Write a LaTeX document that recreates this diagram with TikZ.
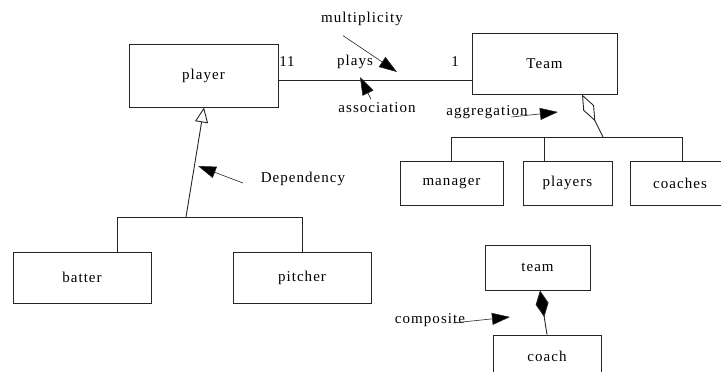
\documentclass[tikz,border=0pt]{standalone}
\usepackage{fontspec}
\setmainfont{Liberation Serif}[LetterSpace=7]
\usetikzlibrary{positioning}
\usetikzlibrary{arrows.meta}
\colorlet{uml-line}{black!85}
\tikzset{
  class-box/.style 2 args={draw=uml-line, rectangle, minimum width=#1, minimum height=#2, inner sep=0pt},
  note-path/.style={uml-line, line width=0.6pt, -{Triangle[length=18pt,width=12pt,fill=black]}},
  generalize/.style={-{Triangle[open,length=15pt,width=13pt]}},
  aggregate/.style={-{Diamond[open,length=30pt,width=12pt]}},
  compose/.style={-{Diamond[length=27pt,width=13pt,fill=black]}},
}

\begin{document}
\begin{tikzpicture}[x=1pt, y=-1pt, font=\fontsize{15}{18}\selectfont, line width=0.9pt, draw=uml-line]
\useasboundingbox (0,0) rectangle (721,372);
% classes
\node[class-box={149pt}{63pt}] at (203.5,75.5) (player) {player};
\node[class-box={145pt}{61pt}] at (544.5,63.5) (Team) {Team};
\node[class-box={138pt}{51pt}] at (82,277.5) (batter) {batter};
\node[class-box={138pt}{51pt}] at (302,277.5) (pitcher) {pitcher};
\node[class-box={103pt}{44pt}] at (451.5,183) (manager) {manager};
\node[class-box={89pt}{44pt}] at (567.5,183) (players) {players};
\node[class-box={100pt}{44pt}] at (680,183.5) (coaches) {coaches};
\node[class-box={105pt}{45pt}] at (537.5,267.5) (team) {team};
\node[class-box={108pt}{42pt}] at (547,356) (coach) {coach};
% association
\draw ([yshift=-4.5pt]player.east) -- ([yshift=-4.5pt]player.east -| Team.west);
\node at (287,62) (one-left) {11};
\node at (355,62) (plays) {plays};
\node at (455,62) (one-right) {1};
% generalization
\coordinate (gen-bar) at (186,217);
\draw ([xshift=35pt]batter.north) |- (pitcher.north |- gen-bar) -- (pitcher.north);
\draw[generalize] (gen-bar) -- ([xshift=0.5pt]player.south);
% aggregation
\coordinate (agg-bar) at (603,137);
\draw (manager.north) |- ([xshift=2pt]coaches.north |- agg-bar) -- ([xshift=2pt]coaches.north);
\draw ([xshift=-23.5pt]players.north) -- ([xshift=-23.5pt]players.north |- agg-bar);
\draw[aggregate] (agg-bar) -- ([xshift=37.5pt]Team.south);
% composition
\draw[compose] (coach.north) -- ([xshift=2.5pt]team.south);
% notes
\node at (362,19) (multiplicity) {multiplicity};
\coordinate (multiplicity-tip) at (397,72);
\draw[note-path] ([xshift=-19pt,yshift=-6pt]multiplicity.south) -- (multiplicity-tip);
\node at (377,108) (association) {association};
\coordinate (association-tip) at (360,77);
\draw[note-path] ([xshift=-6pt]association.north) -- (association-tip);
\node at (487,112) (aggregation) {aggregation};
\coordinate (aggregation-tip) at (558,112);
\draw[note-path] ([xshift=-20pt,yshift=-5pt]aggregation.east) -- (aggregation-tip);
\node at (303,179) (dependency) {Dependency};
\coordinate (dependency-tip) at (198,166);
\draw[note-path] ([xshift=-14pt,yshift=-4pt]dependency.west) -- (dependency-tip);
\node at (430,320) (composite) {composite};
\coordinate (composite-tip) at (510,317);
\draw[note-path] ([xshift=-16pt,yshift=-3pt]composite.east) -- (composite-tip);
\end{tikzpicture}
\end{document}
